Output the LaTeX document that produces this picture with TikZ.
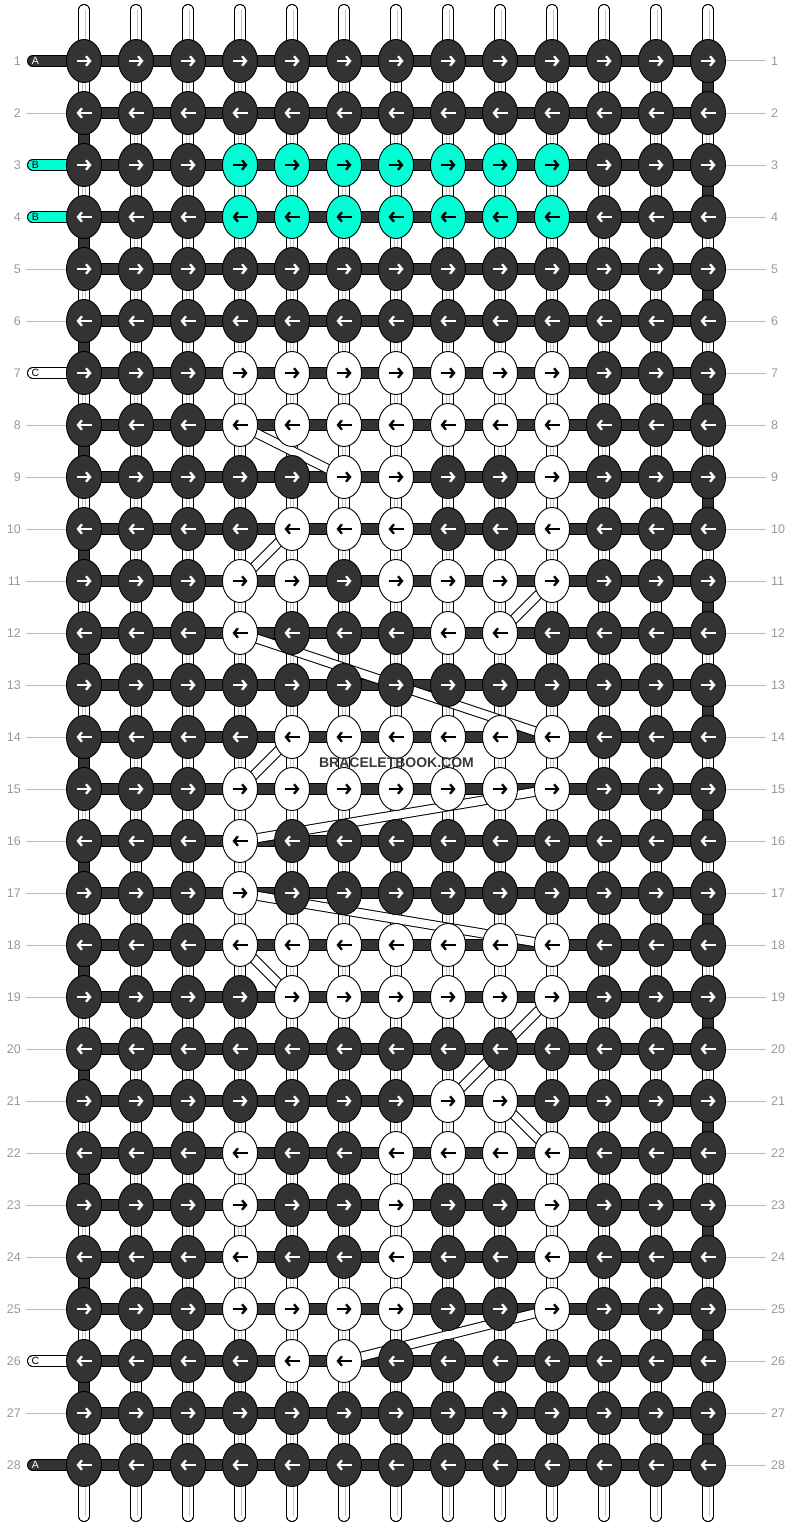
\documentclass[tikz,border=0pt]{standalone}
\usepackage{fontspec}
\setmainfont{Liberation Sans}
\usetikzlibrary{shapes.geometric,arrows.meta}
\definecolor{dk}{HTML}{333333}
\definecolor{cy}{HTML}{00FFD5}
\definecolor{numgray}{HTML}{999999}
\definecolor{linegray}{HTML}{BBBBBB}
\definecolor{strgray}{HTML}{C4C4C4}
\definecolor{wm}{HTML}{3A3A3A}
\pgfdeclarelayer{strings}
\pgfdeclarelayer{extras}
\pgfsetlayers{strings,extras,main}
\def\setknot#1#2#3#4{%
  \expandafter\gdef\csname kf-#1-#2\endcsname{#3}%
  \expandafter\gdef\csname ka-#1-#2\endcsname{#4}}
\begin{document}
\begin{tikzpicture}[x=1pt,y=-1pt,
  knot/.style={ellipse, draw=black, line width=0.9pt, minimum width=35pt, minimum height=43pt, inner sep=0pt},
  arrowln/.style={line width=2.3pt, -{Straight Barb[length=4pt,width=9.5pt]}},
  strout/.style={line width=11.5pt, black},
  strin/.style={line width=9.5pt, white},
  strdark/.style={line width=9.5pt, dk},
  strline/.style={line width=0.7pt, strgray},
  bandout/.style={line width=10pt, black},
  bandin/.style={line width=8pt, white},
  numlbl/.style={font=\fontsize{12.5}{14}\selectfont, text=numgray, inner sep=0pt},
  gline/.style={line width=1pt, linegray},
  tablbl/.style={font=\fontsize{10.5}{11}\selectfont, inner sep=0pt},
]
\useasboundingbox (0,0) rectangle (792,1528);

% knot colours
\foreach \r/\a/\b in {3/4/10,4/4/10} {\foreach \c in {\a,...,\b} {\setknot{\r}{\c}{cy}{black}}}
\foreach \r/\a/\b in {7/4/10, 8/4/10, 9/6/7, 9/10/10, 10/5/7, 10/10/10, 11/4/5, 11/7/10,
  12/4/4, 12/8/9, 14/5/10, 15/4/10, 16/4/4, 17/4/4, 18/4/10, 19/5/10, 21/8/9,
  22/4/4, 22/7/10, 23/4/4, 23/7/7, 23/10/10, 24/4/4, 24/7/7, 24/10/10,
  25/4/7, 25/10/10, 26/5/6}
  {\foreach \c in {\a,...,\b} {\setknot{\r}{\c}{white}{black}}}

% knots
\foreach \r in {1,...,28} {
  \foreach \c in {1,...,13} {
    \ifcsname kf-\r-\c\endcsname
      \edef\kf{\csname kf-\r-\c\endcsname}\edef\ka{\csname ka-\r-\c\endcsname}%
    \else
      \def\kf{dk}\def\ka{white}%
    \fi
    \node[knot, fill=\kf] (k-\r-\c) at ({84+52*(\c-1)},{61+52*(\r-1)}) {};
    \ifodd\r
      \draw[arrowln, color=\ka] ([xshift=-7.5pt]k-\r-\c.center) -- ([xshift=7.5pt]k-\r-\c.center);
    \else
      \draw[arrowln, color=\ka] ([xshift=7.5pt]k-\r-\c.center) -- ([xshift=-7.5pt]k-\r-\c.center);
    \fi
  }
}

\begin{pgfonlayer}{strings}
  % top and bottom rods
  \foreach \c in {1,...,13} {
    \coordinate (t-\c) at ({84+52*(\c-1)}, 9.75);
    \coordinate (b-\c) at ({84+52*(\c-1)}, 1516.25);
    \draw[strout, line cap=round] (t-\c) -- (k-1-\c.center);
    \draw[strin, line cap=round] (t-\c) -- (k-1-\c.center);
    \draw[strline] ([xshift=1pt]t-\c) -- ([xshift=1pt]k-1-\c.center);
    \draw[strout, line cap=round] (k-28-\c.center) -- (b-\c);
    \draw[strin, line cap=round] (k-28-\c.center) -- (b-\c);
    \draw[strline] ([xshift=1pt]k-28-\c.center) -- ([xshift=1pt]b-\c);
  }
  % vertical segments
  \foreach \r [evaluate=\r as \rn using int(\r+1)] in {1,...,27} {
    \foreach \c in {1,...,13} {
      \pgfmathtruncatemacro\dark{((\c==1) && (mod(\r,2)==0)) || ((\c==13) && (mod(\r,2)==1))}
      \draw[strout] (k-\r-\c.center) -- (k-\rn-\c.center);
      \ifnum\dark=1
        \draw[strdark] (k-\r-\c.center) -- (k-\rn-\c.center);
      \else
        \draw[strin] (k-\r-\c.center) -- (k-\rn-\c.center);
        \draw[strline] ([xshift=-1.8pt]k-\r-\c.center) -- ([xshift=-1.8pt]k-\rn-\c.center);
        \draw[strline] ([xshift=1.8pt]k-\r-\c.center) -- ([xshift=1.8pt]k-\rn-\c.center);
      \fi
    }
  }
  % horizontal bars
  \foreach \r in {1,...,28} {
    \draw[line width=11.5pt, black] (k-\r-1.center) -- (k-\r-13.center);
    \draw[line width=9.5pt, dk] (k-\r-1.center) -- (k-\r-13.center);
  }
\end{pgfonlayer}

\begin{pgfonlayer}{extras}
  % tabs on the left
  \foreach \r/\fc in {1/dk, 3/cy, 4/cy, 7/white, 26/white, 28/dk} {
    \coordinate (tab-\r) at (32.75, {61+52*(\r-1)});
    \draw[line width=11.5pt, black, line cap=round] (tab-\r) -- (k-\r-1.center);
    \draw[line width=9.5pt, color=\fc, line cap=round] (tab-\r) -- (k-\r-1.center);
  }
  % diagonal bands
  \foreach \ra/\ca/\rb/\cb in {8/4/9/6, 10/5/11/4, 11/10/12/9, 12/4/14/10, 14/5/15/4,
      15/10/16/4, 17/4/18/10, 18/4/19/5, 19/10/21/8, 21/9/22/10, 25/10/26/6} {
    \draw[bandout] (k-\ra-\ca.center) -- (k-\rb-\cb.center);
    \draw[bandin] (k-\ra-\ca.center) -- (k-\rb-\cb.center);
  }
\end{pgfonlayer}

% tab letters
\foreach \r/\lab/\tc in {1/A/white, 3/B/black, 4/B/black, 7/C/black, 26/C/black, 28/A/white} {
  \node[tablbl, text=\tc] (tl-\r) at (35.5, {61+52*(\r-1)}) {\lab};
}

% row numbers and guide lines
\foreach \r in {1,...,28} {
  \node[numlbl, anchor=east] (ln-\r) at (21, {61+52*(\r-1)}) {\r};
  \node[numlbl, anchor=west] (rn-\r) at (771, {61+52*(\r-1)}) {\r};
  \draw[gline] (k-\r-13.east) -- ([xshift=-5pt]rn-\r.west);
}
\foreach \r in {2,5,6,8,9,10,11,12,13,14,15,16,17,18,19,20,21,22,23,24,25,27} {
  \draw[gline] ([xshift=5pt]ln-\r.east) -- (k-\r-1.west);
}

% watermark
\node[font=\bfseries\fontsize{14}{16}\selectfont, text=wm, inner sep=0pt] (wmark) at (396.5,763) {BRACELETBOOK.COM};
\end{tikzpicture}
\end{document}
